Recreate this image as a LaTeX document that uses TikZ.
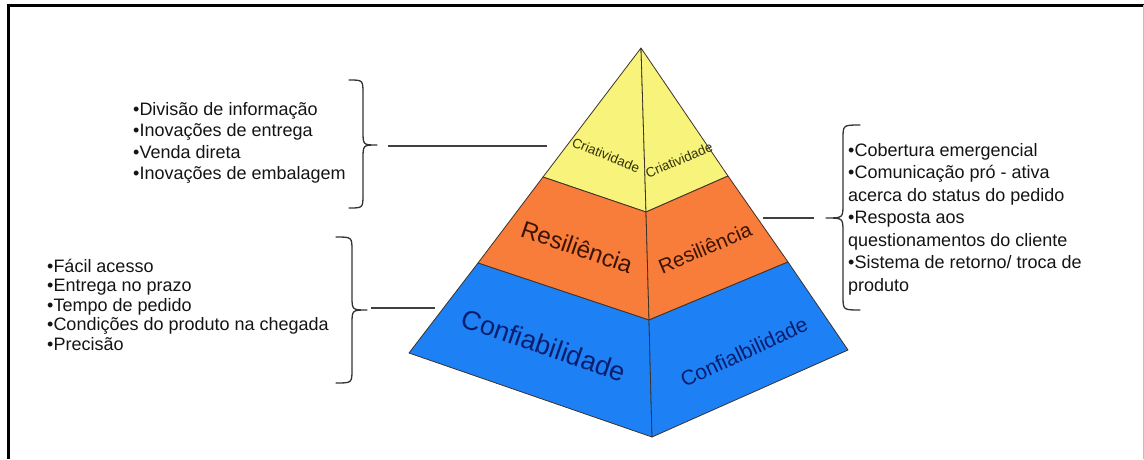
\documentclass[tikz,border=0pt]{standalone}
\usepackage{fontspec}
\setmainfont{Liberation Sans}
\definecolor{pyel}{RGB}{248,243,122}
\definecolor{pora}{RGB}{248,124,58}
\definecolor{pblu}{RGB}{30,128,245}
\definecolor{tyel}{RGB}{50,50,10}
\definecolor{tora}{RGB}{60,20,5}
\definecolor{tblu}{RGB}{10,30,110}
\definecolor{edge}{RGB}{60,50,40}
\tikzset{
  face/.style={draw=edge, line width=0.8pt, line join=round},
  item/.style={inner sep=0pt, anchor=base west, text=black!92, font=\fontsize{18}{21}\selectfont},
  bracepath/.style={draw=black!80, line width=1.3pt, line cap=round, line join=round},
  conn/.style={draw=black!75, line width=1.5pt},
  lblcri/.style={text=tyel, inner sep=0pt, font=\fontsize{13.5}{15}\selectfont},
  lblres/.style={text=tora, inner sep=0pt},
  lblcon/.style={text=tblu, inner sep=0pt}
}
\begin{document}
\begin{tikzpicture}[x=1pt,y=-1pt]
\useasboundingbox (0,0) rectangle (1144,459);
% frame
\draw[line width=3pt] (8,459) -- (8,5) -- (1144,5);
\draw[black!25, line width=1pt] (1143,5) -- (1143,459);
% pyramid points
\coordinate (apex) at (641,48);
\coordinate (yl) at (543,177);
\coordinate (yc) at (646,212);
\coordinate (yr) at (728,176);
\coordinate (ol) at (478,263);
\coordinate (oc) at (649,320);
\coordinate (or) at (788,262);
\coordinate (bl) at (409,353);
\coordinate (bc) at (652,437);
\coordinate (br) at (848,350);
% faces
\path[face, fill=pyel] (apex) -- (yl) -- (yc) -- cycle;
\path[face, fill=pyel] (apex) -- (yc) -- (yr) -- cycle;
\path[face, fill=pora] (yl) -- (ol) -- (oc) -- (yc) -- cycle;
\path[face, fill=pora] (yc) -- (oc) -- (or) -- (yr) -- cycle;
\path[face, fill=pblu] (ol) -- (bl) -- (bc) -- (oc) -- cycle;
\path[face, fill=pblu] (oc) -- (bc) -- (br) -- (or) -- cycle;
% face labels
\node[lblcri, rotate=-22] (cril) at (606,155) {Criatividade};
\node[lblcri, rotate=23] (crir) at (679,160) {Criatividade};
\node[lblres, rotate=-19, font=\fontsize{24}{28}\selectfont] (resl) at (577,247) {Resiliência};
\node[lblres, rotate=23, font=\fontsize{20.5}{24}\selectfont] (resr) at (705,248) {Resiliência};
\node[lblcon, rotate=-19, font=\fontsize{27}{30}\selectfont] (conl) at (544,345) {Confiabilidade};
\node[lblcon, rotate=25, font=\fontsize{21}{25}\selectfont] (conr) at (744,352) {Confialbilidade};
% top-left list
\foreach \t [count=\i] in {•Divisão de informação, •Inovações de entrega, •Venda direta, •Inovações de embalagem}
  \node[item] (tl\i) at (133,{115+21.5*(\i-1)}) {\t};
% bottom-left list
\foreach \t [count=\i] in {•Fácil acesso, •Entrega no prazo, •Tempo de pedido, •Condições do produto na chegada, •Precisão}
  \node[item] (bll\i) at (47,{272+19.5*(\i-1)}) {\t};
% right list
\foreach \t [count=\i] in {•Cobertura emergencial, •Comunicação pró - ativa, acerca do status do pedido, •Resposta aos, questionamentos do cliente, •Sistema de retorno/ troca de, produto}
  \node[item] (rl\i) at (848,{156+22.5*(\i-1)}) {\t};
% braces
\path[bracepath] (349,80) .. controls (363,80) .. (363,94) -- (363,131)
  .. controls (363,145) .. (377,145) .. controls (363,145) .. (363,159) -- (363,194)
  .. controls (363,208) .. (349,208);
\path[bracepath] (336,237) .. controls (352,237) .. (352,251) -- (352,296)
  .. controls (352,310) .. (367,310) .. controls (352,310) .. (352,324) -- (352,369)
  .. controls (352,383) .. (336,383);
\path[bracepath] (860,125) .. controls (843,125) .. (843,139) -- (843,204)
  .. controls (843,218) .. (826,218) .. controls (843,218) .. (843,232) -- (843,296)
  .. controls (843,310) .. (860,310);
% connectors
\coordinate (c1a) at (388,146);
\coordinate (c1b) at (547,146);
\coordinate (c2a) at (371,308);
\coordinate (c2b) at (435,308);
\coordinate (c3a) at (763,218);
\coordinate (c3b) at (814,218);
\draw[conn] (c1a) -- (c1b);
\draw[conn] (c2a) -- (c2b);
\draw[conn] (c3a) -- (c3b);
\end{tikzpicture}
\end{document}
